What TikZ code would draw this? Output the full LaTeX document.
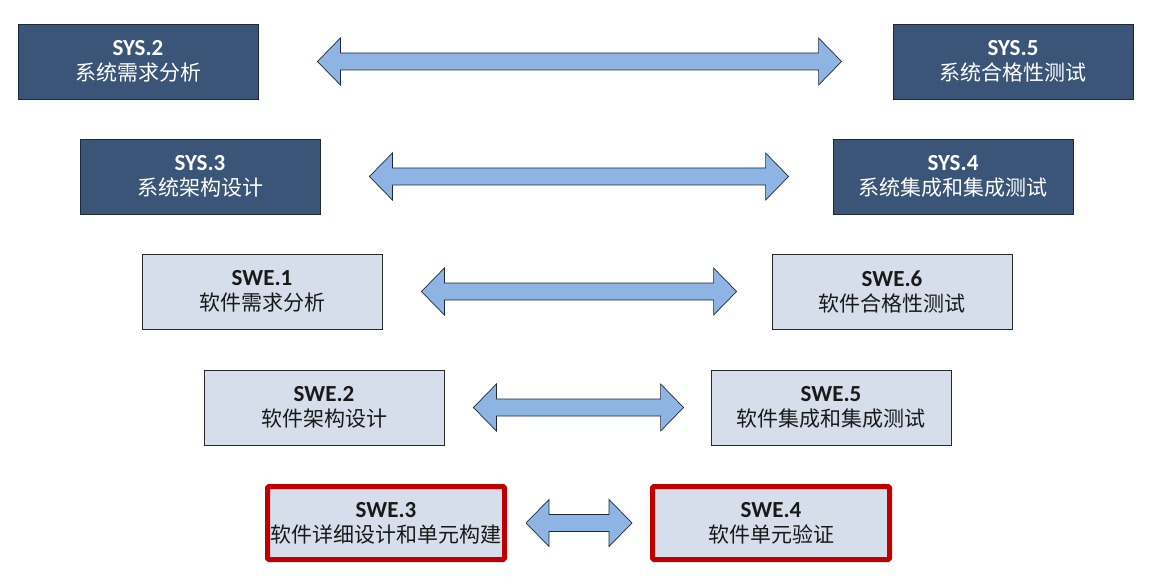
\documentclass[tikz,border=0pt]{standalone}
\usepackage{fontspec}
\setmainfont{Carlito}
\newfontfamily\cjk{Noto Sans CJK SC}
\usetikzlibrary{calc}
\definecolor{darkbox}{RGB}{58,85,120}
\definecolor{darkedge}{RGB}{30,40,55}
\definecolor{lightbox}{RGB}{213,222,234}
\definecolor{lightedge}{RGB}{40,40,40}
\definecolor{arrowfill}{RGB}{142,180,227}
\definecolor{rededge}{RGB}{192,0,0}
\tikzset{
  box/.style={rectangle, inner sep=0pt, minimum width=240pt, minimum height=75pt, align=center, line width=0.8pt, font=\fontsize{21}{25}\selectfont},
  sysbox/.style={box, fill=darkbox, draw=darkedge, text=white},
  swebox/.style={box, fill=lightbox, draw=lightedge, text=black!90},
  redbox/.style={box, fill=lightbox, draw=rededge, line width=5pt, minimum width=237pt, minimum height=73pt, rounded corners=1.5pt, text=black!90},
  dblarrow/.style={fill=arrowfill, draw=darkedge, line width=0.7pt, line join=miter}
}
\newcommand{\boxtext}[2]{{\fontsize{23}{25}\selectfont\bfseries #1}\\{\cjk #2}}
% \linkarrow{left node}{right node}{left gap}{right gap}
\newcommand{\linkarrow}[4]{%
  \path[dblarrow] let \p1=($(#1.east)+(#3pt,0pt)$), \p2=($(#2.west)-(#4pt,0pt)$) in
    (\x1,\y1) -- (\x1+23pt,\y1+23.5pt) -- (\x1+23pt,\y1+8.5pt) -- (\x2-23pt,\y1+8.5pt)
    -- (\x2-23pt,\y1+23.5pt) -- (\x2,\y1) -- (\x2-23pt,\y1-23.5pt) -- (\x2-23pt,\y1-8.5pt)
    -- (\x1+23pt,\y1-8.5pt) -- (\x1+23pt,\y1-23.5pt) -- cycle;}
\begin{document}
\begin{tikzpicture}[x=1pt,y=-1pt]
\useasboundingbox (0,0) rectangle (1158,588);
\node[sysbox] (sys2) at (138,61.5) {\boxtext{SYS.2}{系统需求分析}};
\node[sysbox] (sys5) at (1013,61.5) {\boxtext{SYS.5}{系统合格性测试}};
\node[sysbox] (sys3) at (200,176.5) {\boxtext{SYS.3}{系统架构设计}};
\node[sysbox] (sys4) at (953,176.5) {\boxtext{SYS.4}{系统集成和集成测试}};
\node[swebox] (swe1) at (262,291.5) {\boxtext{SWE.1}{软件需求分析}};
\node[swebox] (swe6) at (892,291.5) {\boxtext{SWE.6}{软件合格性测试}};
\node[swebox] (swe2) at (324,407.5) {\boxtext{SWE.2}{软件架构设计}};
\node[swebox] (swe5) at (831,407.5) {\boxtext{SWE.5}{软件集成和集成测试}};
\node[redbox] (swe3) at (386,523) {\boxtext{SWE.3}{软件详细设计和单元构建}};
\node[redbox] (swe4) at (771,523) {\boxtext{SWE.4}{软件单元验证}};
\linkarrow{sys2}{sys5}{59}{51}
\linkarrow{sys3}{sys4}{49}{44}
\linkarrow{swe1}{swe6}{39}{35}
\linkarrow{swe2}{swe5}{29}{27}
\linkarrow{swe3}{swe4}{19}{18}
\end{tikzpicture}
\end{document}
